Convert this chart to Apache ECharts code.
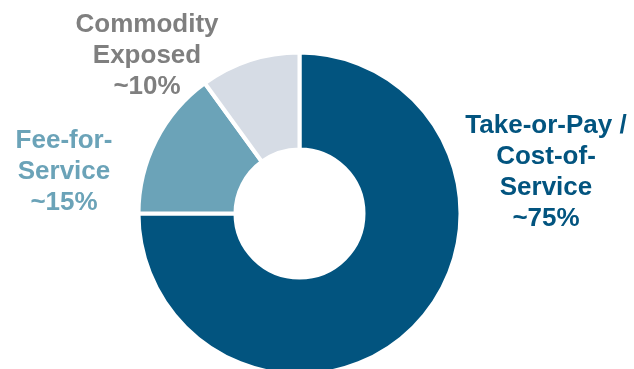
<!DOCTYPE html>
<html>
<head>
<meta charset="utf-8">
<script src="https://cdn.jsdelivr.net/npm/echarts@6/dist/echarts.min.js"></script>
<style>
  html, body { margin: 0; padding: 0; background: #ffffff; }
  #chart { width: 634px; height: 369px; }
</style>
</head>
<body>
<div id="chart"></div>
<script>
// Revenue mix by contract type (share of total, %)
const categories = ['Take-or-Pay /\nCost-of-\nService', 'Fee-for-\nService', 'Commodity\nExposed'];
const shares = [75, 15, 10];
const sliceColors = ['#02547F', '#6BA3B8', '#D6DCE5'];
const labelColors = ['#02547F', '#6BA3B8', '#7F7F7F'];

// Where each label block sits (centre of the text block)
const labelSpots = [
  { x: 546, y: 172 },
  { x: 64, y: 172 },
  { x: 147, y: 56 }
];

const chart = echarts.init(document.getElementById('chart'), null, { renderer: 'canvas' });

chart.setOption({
  animation: false,
  series: [{
    type: 'pie',
    center: [299.5, 213.5],
    radius: [64, 161],
    startAngle: 90,
    clockwise: true,
    silent: true,
    itemStyle: { borderColor: '#ffffff', borderWidth: 4 },
    label: {
      show: true,
      position: 'outside',
      formatter: p => p.name + '\n~' + p.value + '%',
      fontFamily: '"Liberation Sans", Arial, sans-serif',
      fontWeight: 'bold',
      fontSize: 26,
      lineHeight: 31,
      align: 'center'
    },
    labelLine: { show: false },
    labelLayout: params => ({
      x: labelSpots[params.dataIndex].x,
      y: labelSpots[params.dataIndex].y,
      align: 'center',
      verticalAlign: 'middle'
    }),
    data: categories.map((name, i) => ({
      name: name,
      value: shares[i],
      itemStyle: { color: sliceColors[i] },
      label: { color: labelColors[i] }
    }))
  }]
});
</script>
</body>
</html>
